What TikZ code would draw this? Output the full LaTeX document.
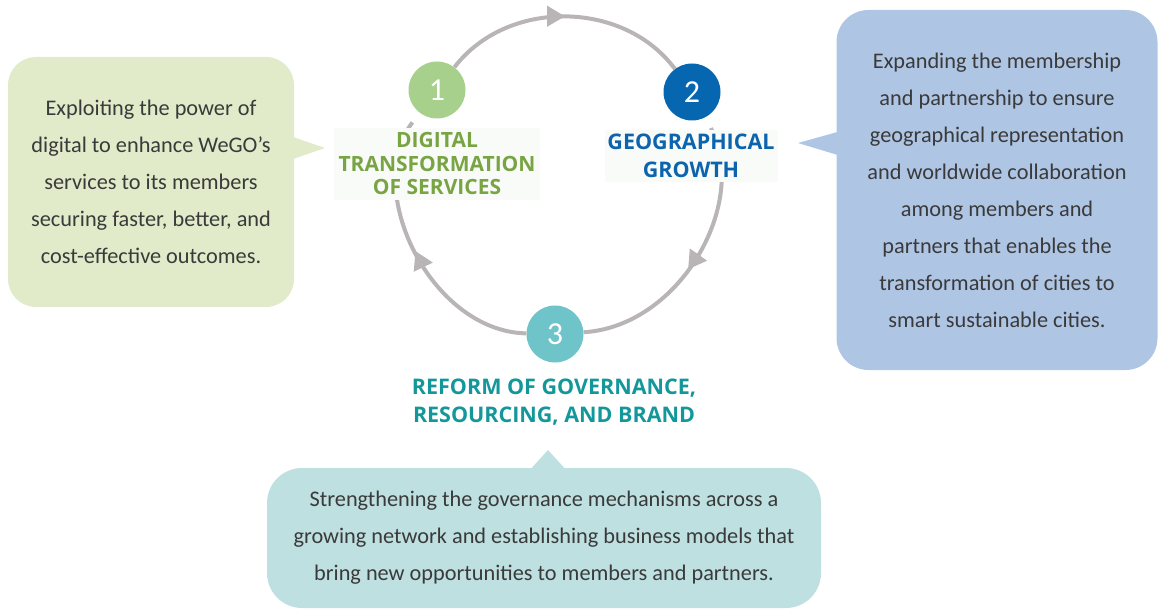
\documentclass[tikz,border=0pt]{standalone}
\usepackage{fontspec}
\setmainfont{Carlito}
\newfontfamily\headfont{Open Sans}
\usetikzlibrary{arrows.meta, decorations.markings, backgrounds}

\definecolor{ringgray}{HTML}{B9B5B7}
\definecolor{bodytext}{HTML}{3A3A3A}
\definecolor{greenfill}{HTML}{E1EBCA}
\definecolor{bluefill}{HTML}{AFC5E4}
\definecolor{tealfill}{HTML}{BEE0E1}
\definecolor{greendot}{HTML}{A8D08D}
\definecolor{bluedot}{HTML}{0766B0}
\definecolor{tealdot}{HTML}{6FC4CA}
\definecolor{greentitle}{HTML}{78A443}
\definecolor{bluetitle}{HTML}{0B64AD}
\definecolor{tealtitle}{HTML}{13979A}
\definecolor{labelbg}{HTML}{F9FBF9}

\tikzstyle{bubble} = [rectangle, rounded corners=28pt, text centered, align=center, text=bodytext, inner sep=0pt, font=\fontsize{22.3}{37}\selectfont]
\tikzstyle{stepdot} = [circle, minimum size=57pt, inner sep=0pt, text=white, font=\fontsize{32}{32}\selectfont]
\tikzstyle{steptitle} = [rectangle, align=center, inner sep=2pt, font=\headfont\bfseries\fontsize{21.5}{28}\selectfont]
\tikzset{ring/.style={line width=4pt, draw=ringgray, postaction={decorate}, decoration={markings, mark=at position #1 with {\arrow[ringgray]{Triangle[length=18pt,width=20pt]}}}}, ring/.default=0.5}

\begin{document}
\begin{tikzpicture}[x=1pt, y=-1pt]
\useasboundingbox (0,0) rectangle (1158,609);

% Bubbles
\node (digitalbox) [bubble, fill=greenfill, minimum width=286pt, minimum height=250pt] at (151,182) {Exploiting the power of\\digital to enhance WeGO’s\\services to its members\\securing faster, better, and\\cost-effective outcomes.};
\node (growthbox) [bubble, fill=bluefill, rounded corners=32pt, minimum width=321pt, minimum height=360pt] at (997,190) {Expanding the membership\\and partnership to ensure\\geographical representation\\and worldwide collaboration\\among members and\\partners that enables the\\transformation of cities to\\smart sustainable cities.};
\node (reformbox) [bubble, fill=tealfill, rounded corners=35pt, minimum width=554pt, minimum height=140pt] at (544,538) {Strengthening the governance mechanisms across a\\growing network and establishing business models that\\bring new opportunities to members and partners.};

\fill [greenfill] (290,136) -- (325,148) -- (290,160) -- cycle;
\fill [bluefill] (841,131) -- (798,143) -- (841,156) -- cycle;
\fill [tealfill] (528,472) -- (548,450) -- (568,472) -- cycle;

% Steps
\node (one) [stepdot, fill=greendot] at (437,90) {1};
\node (two) [stepdot, fill=bluedot] at (692,92) {2};
\node (three) [stepdot, fill=tealdot] at (555,334) {3};

\node (digital) [steptitle, fill=labelbg, text=greentitle, minimum width=206pt, minimum height=72pt, font=\headfont\bfseries\fontsize{21}{23.5}\selectfont] at (437,164) {DIGITAL\\TRANSFORMATION\\OF SERVICES};
\node (growth) [steptitle, fill=labelbg, text=bluetitle, minimum width=173pt, minimum height=52pt] at (691,156) {GEOGRAPHICAL\\GROWTH};
\node (reform) [steptitle, text=tealtitle] at (554,402) {REFORM OF GOVERNANCE,\\RESOURCING, AND BRAND};

% Arrows
\begin{scope}[on background layer]
\draw [ring] (one) to[bend left=53] (two);
\draw [ring=0.56, shorten <=12pt] (two) to[bend left=57] (three);
\draw [ring, shorten >=12pt] (three) to[bend left=63] (one);
\end{scope}

\end{tikzpicture}
\end{document}
